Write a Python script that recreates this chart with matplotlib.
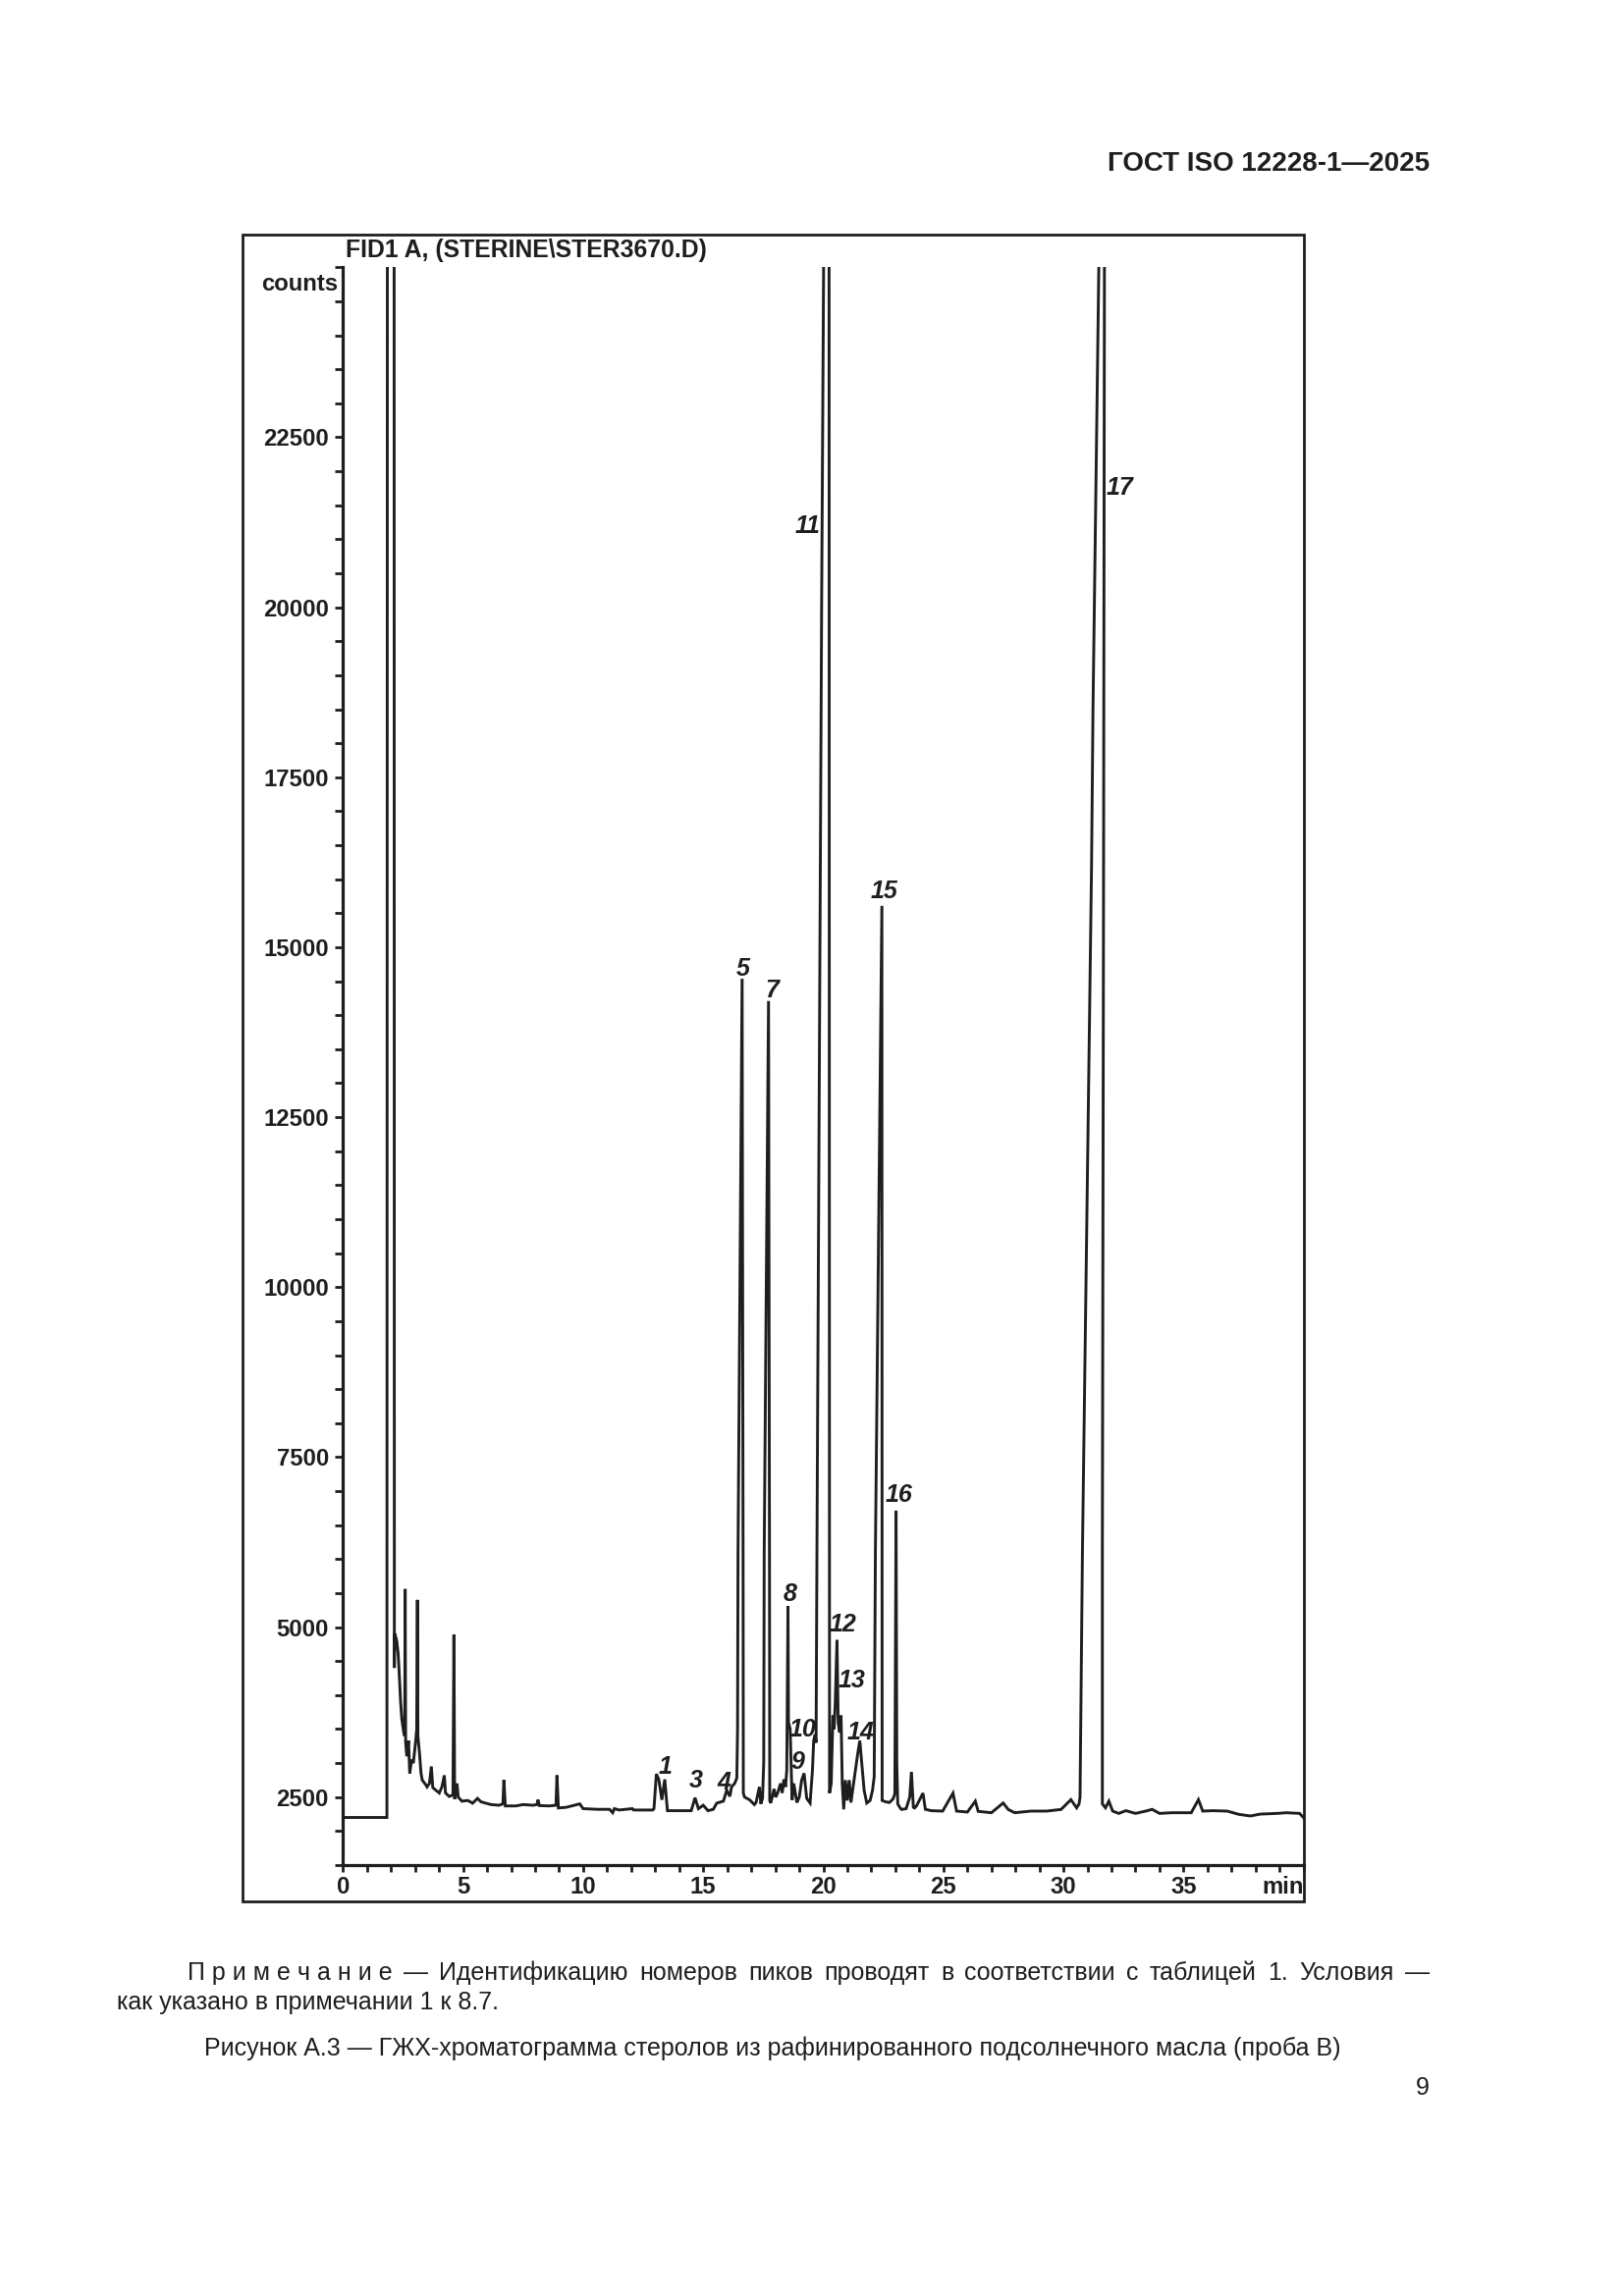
import matplotlib
matplotlib.use("Agg")
import matplotlib.pyplot as plt
from matplotlib.patches import Rectangle
from matplotlib.ticker import MultipleLocator

plt.rcParams['font.family'] = ['Liberation Sans', 'DejaVu Sans']

# ---------------- data ----------------
time_min = [
    0.00, 1.83, 1.85, 2.13, 2.14, 2.16, 2.24, 2.30, 2.36, 2.40, 2.45, 2.53, 2.57, 2.59, 2.61,
    2.66, 2.73, 2.78, 2.86, 2.93, 3.03, 3.07, 3.10, 3.12, 3.19, 3.25, 3.30, 3.45, 3.50, 3.60,
    3.68, 3.74, 3.87, 4.01, 4.12, 4.22, 4.27, 4.42, 4.58, 4.62, 4.65, 4.75, 4.80, 4.95, 5.20,
    5.40, 5.60, 5.75, 6.16, 6.50, 6.66, 6.70, 6.76, 7.20, 7.50, 7.90, 8.08, 8.12, 8.18, 8.60,
    8.87, 8.91, 8.97, 9.30, 9.86, 10.00, 10.60, 11.10, 11.23, 11.30, 11.50, 12.05, 12.10, 12.90,
    12.95, 13.05, 13.15, 13.28, 13.40, 13.51, 14.00, 14.50, 14.66, 14.80, 15.00, 15.20, 15.42,
    15.56, 15.84, 15.98, 16.11, 16.18, 16.31, 16.40, 16.43, 16.45, 16.62, 16.66, 16.67, 16.72,
    16.93, 17.13, 17.20, 17.34, 17.40, 17.47, 17.52, 17.54, 17.72, 17.76, 17.77, 17.81, 17.88,
    17.95, 18.02, 18.10, 18.22, 18.29, 18.36, 18.43, 18.48, 18.53, 18.55, 18.62, 18.70, 18.77,
    18.90, 19.00, 19.10, 19.20, 19.31, 19.45, 19.55, 19.60, 19.66, 19.70, 19.74, 19.93, 20.03,
    20.24, 20.26, 20.33, 20.40, 20.45, 20.50, 20.57, 20.62, 20.68, 20.74, 20.79, 20.85, 20.92,
    21.00, 21.08, 21.15, 21.30, 21.43, 21.52, 21.60, 21.70, 21.81, 21.95, 22.05, 22.12, 22.17,
    22.44, 22.45, 22.60, 22.75, 22.90, 22.98, 23.01, 23.03, 23.06, 23.10, 23.20, 23.26, 23.45,
    23.60, 23.67, 23.75, 23.80, 23.88, 24.15, 24.25, 24.50, 24.97, 25.40, 25.55, 26.00, 26.33,
    26.45, 27.00, 27.49, 27.70, 27.97, 28.65, 29.30, 29.90, 30.31, 30.55, 30.65, 30.69, 30.79,
    31.17, 31.23, 31.51, 31.71, 31.67, 31.62, 31.62, 31.75, 31.89, 32.05, 32.30, 32.60, 33.00,
    33.50, 33.69, 34.00, 34.50, 35.32, 35.62, 35.80, 36.20, 36.82, 37.30, 37.78, 38.20, 38.90,
    39.28, 39.83, 40.00,
]
signal_counts = [
    2200, 2200, 26000, 26000, 4400, 4900, 4800, 4600, 4200, 3900, 3650, 3450, 3400, 5560, 3300,
    3100, 3330, 2850, 3050, 3000, 3330, 3500, 5400, 3400, 3130, 2850, 2750, 2680, 2650, 2700,
    2950, 2640, 2600, 2560, 2650, 2820, 2560, 2510, 2530, 4890, 2470, 2700, 2500, 2440, 2450,
    2410, 2480, 2430, 2390, 2380, 2400, 2750, 2370, 2370, 2390, 2380, 2390, 2460, 2375, 2370,
    2380, 2820, 2340, 2350, 2400, 2330, 2320, 2320, 2270, 2330, 2310, 2330, 2310, 2310,
    2330, 2840, 2760, 2460, 2760, 2300, 2300, 2300, 2490, 2330, 2380, 2300, 2320,
    2410, 2440, 2600, 2510, 2650, 2700, 2780, 3500, 6100, 14536, 6000, 2560, 2500,
    2460, 2390, 2420, 2650, 2400, 2480, 3000, 6100, 14209, 6000, 2450, 2413, 2510,
    2620, 2500, 2560, 2700, 2560, 2760, 2650, 2900, 5305, 3600, 3500, 2460, 2700,
    2420, 2500, 2750, 2850, 2480, 2413, 2900, 3330, 3420, 3300, 6400, 19958, 26000,
    26000, 2560, 2700, 3700, 3500, 3900, 4810, 3600, 3450, 3700, 2700, 2320, 2750,
    2450, 2750, 2420, 2800, 3130, 3330, 3000, 2600, 2413, 2450, 2600, 2800, 6100,
    15608, 2450, 2430, 2420, 2470, 2550, 5000, 6713, 3000, 2400, 2340, 2318, 2330,
    2500, 2870, 2350, 2340, 2370, 2558, 2320, 2300, 2294, 2558, 2294, 2280, 2440,
    2290, 2270, 2413, 2318, 2270, 2294, 2294, 2318, 2462, 2342, 2400, 2500, 6100,
    16200, 18500, 26000, 26000, 16000, 6000, 2400, 2342, 2440, 2294, 2260, 2300, 2260,
    2300, 2320, 2260, 2270, 2270, 2462, 2294, 2300, 2294, 2246, 2222, 2250, 2260,
    2270, 2260, 2197,
]

peak_ids = ["1", "3", "4", "5", "7", "8", "9", "10", "11", "12", "13", "14", "15", "16", "17"]
peak_label_t = [13.40, 14.68, 15.88, 16.64, 17.85, 18.62, 18.95, 19.13, 19.36, 20.81, 21.17,
                21.54, 22.52, 23.16, 32.36]
peak_label_c = [2950, 2748, 2715, 14680, 14360, 5491, 3015, 3495, 21190, 5033, 4216,
                3447, 15822, 6940, 21750]

x_major = [0, 5, 10, 15, 20, 25, 30, 35, 40]
x_major_labels = ["0", "5", "10", "15", "20", "25", "30", "35", "min"]
y_major = [2500, 5000, 7500, 10000, 12500, 15000, 17500, 20000, 22500]
y_major_labels = ["2500", "5000", "7500", "10000", "12500", "15000", "17500", "20000", "22500"]

chart_title = "FID1 A, (STERINE\\STER3670.D)"
y_unit = "counts"
header = "ГОСТ ISO 12228-1\u20142025"
note_tokens = ["П р и м е ч а н и е", "\u2014", "Идентификацию", "номеров", "пиков", "проводят",
               "в", "соответствии", "с", "таблицей", "1.", "Условия", "\u2014"]
note_line2 = "как указано в примечании 1 к 8.7."
caption = ("Рисунок А.3 \u2014 ГЖХ-хроматограмма стеролов из рафинированного "
           "подсолнечного масла (проба В)")
page_no = "9"

# ---------------- figure ----------------
W, H = 1654, 2339
fig = plt.figure(figsize=(W / 200, H / 200), dpi=200)
ink = "#1e1e1e"

def fx(px):
    return px / W

def fy(py):
    return 1 - py / H

# outer frame
fig.add_artist(Rectangle((fx(246.6), fy(1936.7)), fx(1328) - fx(246.6), fy(239) - fy(1936.7),
                         transform=fig.transFigure, fill=False, lw=1.0, ec=ink))

ax = fig.add_axes([fx(349.3), fy(1900.0), fx(1327.7) - fx(349.3), fy(272.3) - fy(1900.0)])
ax.set_facecolor("none")
ax.plot(time_min, signal_counts, color=ink, lw=1.05, solid_joinstyle="miter")
ax.set_xlim(0, 40)
ax.set_ylim(1500, 25000)
for s in ("top", "right"):
    ax.spines[s].set_visible(False)
for s in ("left", "bottom"):
    ax.spines[s].set_linewidth(1.15)
    ax.spines[s].set_color(ink)

ax.set_xticks(x_major)
ax.set_xticklabels(x_major_labels, fontsize=8.6, fontweight="bold", color=ink)
ax.get_xticklabels()[-1].set_ha("right")
ax.xaxis.set_minor_locator(MultipleLocator(1))
ax.set_yticks(y_major + [25000])
ax.set_yticklabels(y_major_labels + [""], fontsize=8.6, fontweight="bold", color=ink)
ax.yaxis.set_minor_locator(MultipleLocator(500))
ax.tick_params(axis="x", which="both", direction="out", length=2.6, width=1.0, pad=1.2, colors=ink)
ax.tick_params(axis="y", which="both", direction="out", length=3.0, width=1.0, pad=2.2, colors=ink)

for lab, t, c in zip(peak_ids, peak_label_t, peak_label_c):
    ax.text(t, c, lab, ha="center", va="center", fontsize=9, fontstyle="italic",
            fontweight="bold", color=ink)

fig.text(fx(352), fy(255), chart_title, ha="left", va="center", fontsize=8.9,
         fontweight="bold", color=ink)
fig.text(fx(344), fy(289), y_unit, ha="right", va="center", fontsize=8.6,
         fontweight="bold", color=ink)

# page texts
fig.text(fx(1456), fy(167), header, ha="right", va="center", fontsize=10, fontweight="bold",
         color=ink)

renderer = fig.canvas.get_renderer()
def justified(tokens, x0, x1, y, **kw):
    texts = [fig.text(0, fy(y), tok, ha="left", va="center", **kw) for tok in tokens]
    widths = [t.get_window_extent(renderer).width for t in texts]
    gap = ((x1 - x0) - sum(widths)) / (len(tokens) - 1)
    x = x0
    for t, w in zip(texts, widths):
        t.set_x(fx(x))
        x += w + gap

justified(note_tokens, 191, 1456, 2010, fontsize=9, color=ink)
fig.text(fx(119), fy(2040), note_line2, ha="left", va="center", fontsize=9, color=ink)
fig.text(fx(787), fy(2087), caption, ha="center", va="center", fontsize=9, color=ink)
fig.text(fx(1456), fy(2127), page_no, ha="right", va="center", fontsize=9, color=ink)

fig.savefig("out.png", dpi=200, facecolor="white")
